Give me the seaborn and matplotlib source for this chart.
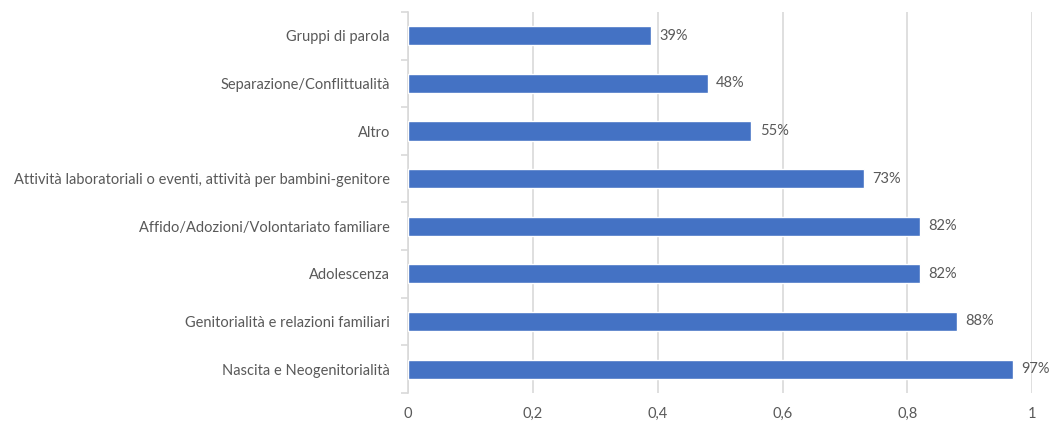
import matplotlib
matplotlib.use("Agg")
import matplotlib.pyplot as plt
import seaborn as sns
import pandas as pd
from matplotlib.ticker import FixedLocator

categories = [
    "Gruppi di parola",
    "Separazione/Conflittualità",
    "Altro",
    "Attività laboratoriali o eventi, attività per bambini-genitore",
    "Affido/Adozioni/Volontariato familiare",
    "Adolescenza",
    "Genitorialità e relazioni familiari",
    "Nascita e Neogenitorialità",
]
percentages = [39, 48, 55, 73, 82, 82, 88, 97]
x_ticks = [0, 0.2, 0.4, 0.6, 0.8, 1.0]
x_tick_labels = ["0", "0,2", "0,4", "0,6", "0,8", "1"]

sns.set_style("white")
plt.rcParams["font.family"] = ["Lato", "DejaVu Sans"]

text_color = "#595959"
grid_color = "#D9D9D9"
bar_color = "#4472C4"

df = pd.DataFrame({"categoria": categories, "quota": [p / 100 for p in percentages]})

fig = plt.figure(figsize=(10.6, 4.22), dpi=100)
ax = fig.add_axes([0.385, 0.069, 0.5887, 0.9026])

sns.barplot(data=df, x="quota", y="categoria", orient="h", color=bar_color,
            saturation=1, width=0.4, ax=ax, zorder=3)

ax.set_xlim(0, 1)
ax.set_ylim(len(categories) - 0.5, -0.5)
ax.set_xlabel("")
ax.set_ylabel("")

ax.xaxis.set_major_locator(FixedLocator(x_ticks))
ax.set_xticklabels(x_tick_labels)
ax.grid(axis="x", color=grid_color, linewidth=1.2, zorder=0)
ax.set_axisbelow(True)

for side in ["top", "right", "bottom"]:
    ax.spines[side].set_visible(False)
ax.spines["left"].set_color(grid_color)
ax.spines["left"].set_linewidth(1.2)

ax.tick_params(axis="x", length=0, labelsize=10.5, labelcolor=text_color, pad=10)
ax.tick_params(axis="y", which="major", length=0, labelsize=10.5,
               labelcolor=text_color, pad=13)
ax.yaxis.set_minor_locator(FixedLocator([i - 0.5 for i in range(len(categories) + 1)]))
ax.tick_params(axis="y", which="minor", left=True, length=5, color=grid_color, width=1.2)

for i, p in enumerate(percentages):
    ax.annotate(f"{p}%", xy=(p / 100, i), xytext=(6, 0), textcoords="offset points",
                va="center", ha="left", fontsize=10.5, color=text_color)

fig.savefig("out.png", dpi=100)
